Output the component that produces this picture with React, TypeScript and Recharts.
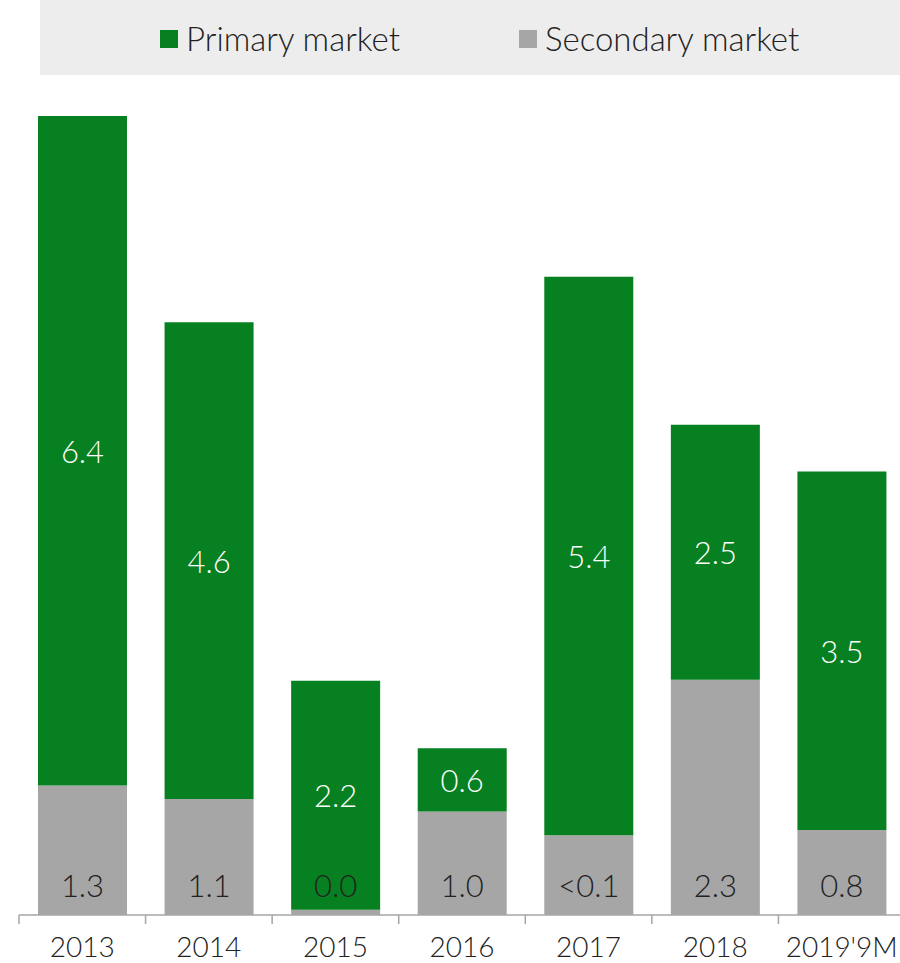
import React from 'react'
import { BarChart, Bar, XAxis, YAxis, Legend, LabelList } from 'recharts'

const years = ['2013', '2014', '2015', '2016', '2017', '2018', "2019'9M"]
const primary = [6.46, 4.6, 2.21, 0.61, 5.39, 2.46, 3.46]
const secondary = [1.25, 1.12, 0.05, 1.0, 0.77, 2.27, 0.82]
const primaryLabels = ['6.4', '4.6', '2.2', '0.6', '5.4', '2.5', '3.5']
const secondaryLabels = ['1.3', '1.1', '0.0', '1.0', '<0.1', '2.3', '0.8']

const GREEN = '#068020'
const GREY = '#a6a6a6'
const FONT = 'Lato, "Open Sans", sans-serif'

const W = 906
const H = 963
const LEGEND_H = 75
const X_AXIS_H = 48
// top margin excludes the legend height, recharts adds it itself
const MARGIN = { top: 11, right: 1, left: 19, bottom: 0 }
const AXIS_Y = H - X_AXIS_H
const BAND = (W - MARGIN.left - MARGIN.right) / years.length

const data = years.map((year, i) => ({
    year,
    primary: primary[i],
    secondary: secondary[i],
    pLabel: primaryLabels[i],
    sLabel: secondaryLabels[i],
}))

const LegendBox = () => (
    <div
        style={{
            background: '#ededed',
            height: LEGEND_H,
            display: 'flex',
            alignItems: 'center',
            fontFamily: FONT,
            fontSize: 33,
            fontWeight: 300,
            color: '#222',
        }}
    >
        <div style={{ display: 'flex', alignItems: 'center', marginLeft: 120 }}>
            <span style={{ width: 18, height: 18, background: GREEN, marginRight: 8, marginTop: 2 }} />
            Primary market
        </div>
        <div style={{ display: 'flex', alignItems: 'center', marginLeft: 119 }}>
            <span style={{ width: 18, height: 18, background: GREY, marginRight: 8, marginTop: 2 }} />
            Secondary market
        </div>
    </div>
)

const YearTick = (props: any) => {
    const { x, payload, index } = props
    return (
        <g>
            <line x1={x - BAND / 2} x2={x - BAND / 2} y1={AXIS_Y} y2={AXIS_Y + 9} stroke={GREY} strokeWidth={1.5} />
            {index === years.length - 1 && (
                <line x1={x + BAND / 2} x2={x + BAND / 2} y1={AXIS_Y} y2={AXIS_Y + 9} stroke={GREY} strokeWidth={1.5} />
            )}
            <text x={x} y={AXIS_Y + 31} textAnchor="middle" dominantBaseline="central" fill="#222" fontSize={28} fontFamily={FONT} fontWeight={300}>
                {payload.value}
            </text>
        </g>
    )
}

const PrimaryLabel = (props: any) => {
    const { x, y, width, height, value } = props
    return (
        <text x={x + width / 2} y={y + height / 2} textAnchor="middle" dominantBaseline="central" fill="#fff" fontSize={31} fontFamily={FONT} fontWeight={300}>
            {value}
        </text>
    )
}

// secondary labels sit near the base of the bar
const SecondaryLabel = (props: any) => {
    const { x, width, value } = props
    return (
        <text x={x + width / 2} y={AXIS_Y - 30} textAnchor="middle" dominantBaseline="central" fill="#222" fontSize={31} fontFamily={FONT} fontWeight={300}>
            {value}
        </text>
    )
}

export default function App() {
    return (
        <div style={{ position: 'absolute', left: 0, top: 0, width: 900, height: H, overflow: 'hidden', background: '#fff' }}>
            <BarChart width={W} height={H} data={data} margin={MARGIN} barSize={89}>
                <Legend
                    verticalAlign="top"
                    height={LEGEND_H}
                    content={() => <LegendBox />}
                    wrapperStyle={{ position: 'absolute', top: 0, left: 40, width: 860 }}
                />
                <XAxis
                    dataKey="year"
                    height={X_AXIS_H}
                    axisLine={{ stroke: GREY, strokeWidth: 1.5 }}
                    tickLine={false}
                    interval={0}
                    tick={<YearTick />}
                />
                <YAxis hide domain={[0, 8]} />
                <Bar dataKey="secondary" stackId="a" fill={GREY} isAnimationActive={false}>
                    <LabelList dataKey="sLabel" content={<SecondaryLabel />} />
                </Bar>
                <Bar dataKey="primary" stackId="a" fill={GREEN} isAnimationActive={false}>
                    <LabelList dataKey="pLabel" content={<PrimaryLabel />} />
                </Bar>
            </BarChart>
        </div>
    )
}
